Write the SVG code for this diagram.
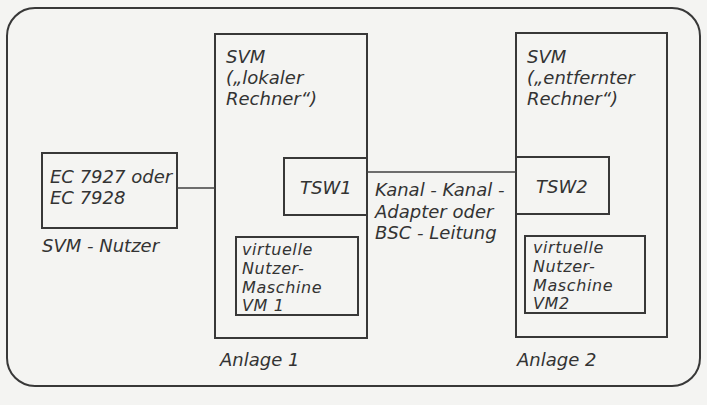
<svg xmlns="http://www.w3.org/2000/svg" width="707" height="405" viewBox="0 0 707 405">
<style>
.b{fill:none;stroke:#383838;stroke-width:2}
.c{fill:none;stroke:#404040;stroke-width:1.6}
text{font-family:"DejaVu Sans",sans-serif;font-style:italic;font-size:18px;fill:#333}
.s{font-size:16px;letter-spacing:0.6px}
</style>
<rect width="707" height="405" fill="#f4f4f2"/>
<rect id="frame" class="b" x="7" y="8" width="693" height="378" rx="28"/>
<g id="user">
<rect class="b" x="42" y="153" width="135" height="75"/>
<text x="50" y="183">EC 7927 oder</text>
<text x="50" y="204">EC 7928</text>
<text x="42" y="252">SVM - Nutzer</text>
</g>
<g id="anlage1">
<rect class="b" x="215" y="34" width="152" height="304"/>
<text x="226" y="63">SVM</text>
<text x="226" y="84">(„lokaler</text>
<text x="226" y="105">Rechner“)</text>
<text x="220" y="366">Anlage 1</text>
</g>
<g id="tsw1">
<rect class="b" x="284" y="158" width="83" height="57"/>
<text x="300" y="194">TSW1</text>
</g>
<g id="vm1">
<rect class="b" x="236" y="237" width="122" height="78"/>
<text class="s" x="242" y="255">virtuelle</text>
<text class="s" x="242" y="273.8">Nutzer-</text>
<text class="s" x="242" y="292.6">Maschine</text>
<text class="s" x="242" y="311.4">VM 1</text>
</g>
<g id="anlage2">
<rect class="b" x="516" y="33" width="151" height="304"/>
<text x="527" y="63">SVM</text>
<text x="527" y="84">(„entfernter</text>
<text x="527" y="105">Rechner“)</text>
<text x="517" y="366">Anlage 2</text>
</g>
<g id="tsw2">
<rect class="b" x="516" y="157" width="93" height="57"/>
<text x="536" y="193">TSW2</text>
</g>
<g id="vm2">
<rect class="b" x="525" y="236" width="120" height="77"/>
<text class="s" x="533" y="253">virtuelle</text>
<text class="s" x="533" y="271.8">Nutzer-</text>
<text class="s" x="533" y="290.6">Maschine</text>
<text class="s" x="533" y="309.4">VM2</text>
</g>
<g id="connectors">
<line class="c" x1="177" y1="188" x2="215" y2="188"/>
<line class="c" x1="367" y1="172" x2="516" y2="172"/>
<text x="375" y="196">Kanal - Kanal -</text>
<text x="375" y="218">Adapter oder</text>
<text x="375" y="239">BSC - Leitung</text>
</g>
</svg>
